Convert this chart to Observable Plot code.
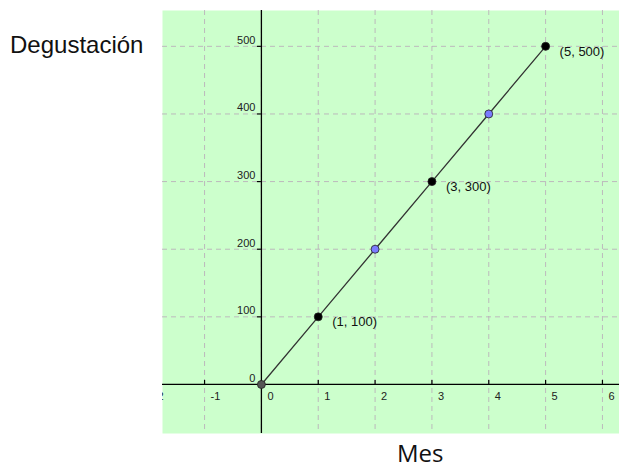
<!DOCTYPE html>
<html>
<head>
<meta charset="utf-8">
<script src="https://cdn.jsdelivr.net/npm/d3@7"></script>
<script src="https://cdn.jsdelivr.net/npm/@observablehq/plot@0.6"></script>
<style>
  html, body { margin: 0; padding: 0; background: #fff; }
  #wrap { position: relative; width: 619px; height: 468px; }
  #ylab { position: absolute; left: 10px; top: 33px; font: 24px/1 "Liberation Sans", Arial, sans-serif; color: #111; }
  #xlab { position: absolute; left: 397px; top: 441px; font: 500 24px/1 "Open Sans", "DejaVu Sans", sans-serif; color: #111; }
</style>
</head>
<body>
<div id="wrap">
  <div id="chart"></div>
  <div id="ylab">Degustación</div>
  <div id="xlab">Mes</div>
</div>
<script>
const meses = [0, 1, 2, 3, 4, 5];
const degustacion = [0, 100, 200, 300, 400, 500];
const tipoPunto = ["origen", "etiquetado", "intermedio", "etiquetado", "intermedio", "etiquetado"];
const xTicks = [-2, -1, 0, 1, 2, 3, 4, 5, 6];
const yTicks = [0, 100, 200, 300, 400, 500];
const xGrid = [-1, 0, 1, 2, 3, 4, 5, 6];
const yGrid = [100, 200, 300, 400, 500];

const puntos = meses.map((m, i) => ({mes: m, valor: degustacion[i], tipo: tipoPunto[i]}));
const fillFor = {origen: "#555555", etiquetado: "#000000", intermedio: "#7b7bff"};

const plot = Plot.plot({
  width: 619,
  height: 468,
  marginLeft: 162,
  marginRight: 0,
  marginTop: 10,
  marginBottom: 35,
  x: {domain: [-1.74, 6.3], axis: null},
  y: {domain: [-72.5, 553], axis: null},
  style: {fontFamily: "Liberation Sans, Arial, sans-serif"},
  marks: [
    Plot.frame({fill: "#ccffcc", stroke: "none"}),
    Plot.ruleX(xGrid, {stroke: "#b8a8b8", strokeOpacity: 0.8, strokeDasharray: "5,4"}),
    Plot.ruleY(yGrid, {stroke: "#b8a8b8", strokeOpacity: 0.8, strokeDasharray: "5,4"}),
    Plot.ruleX([0], {stroke: "#000", strokeWidth: 1.3}),
    Plot.ruleY([0], {stroke: "#000", strokeWidth: 1.3}),
    Plot.ruleX(xTicks, {y1: 0, y2: 6, stroke: "#000", strokeWidth: 1.2, clip: "frame"}),
    Plot.ruleY(yTicks.filter(d => d !== 0), {x1: -0.07, x2: 0, stroke: "#000", strokeWidth: 1.2}),
    Plot.text(xTicks, {x: d => d, y: 0, text: d => String(d), dx: 6, dy: 12, textAnchor: "start", fontSize: 11, fill: "#222", clip: "frame"}),
    Plot.text(yTicks, {x: 0, y: d => d, text: d => String(d), dx: -6, dy: -6, textAnchor: "end", fontSize: 11, fill: "#222"}),
    Plot.line(puntos, {x: "mes", y: "valor", stroke: "#333", strokeWidth: 1.3}),
    Plot.dot(puntos, {x: "mes", y: "valor", r: 4, fill: d => fillFor[d.tipo], stroke: "#222", strokeWidth: 0.8}),
    Plot.text(puntos.filter(d => d.tipo === "etiquetado"), {x: "mes", y: "valor", text: d => `(${d.mes}, ${d.valor})`, dx: 14, dy: 5, textAnchor: "start", fontSize: 13, fill: "#111"})
  ]
});
document.getElementById("chart").appendChild(plot);
</script>
</body>
</html>
